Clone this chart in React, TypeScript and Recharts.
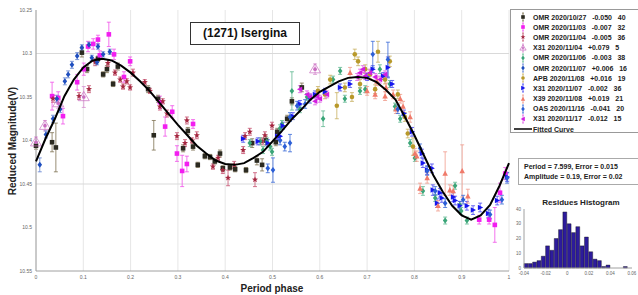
import React from 'react';
import {
  ScatterChart,
  Scatter,
  XAxis,
  YAxis,
  CartesianGrid,
  ReferenceLine,
  ErrorBar,
  BarChart,
  Bar,
} from 'recharts';

// phase, reduced magnitude, error
const omr1027 = [
  [0.0, 10.406, 0.004], [0.034, 10.402, 0.011], [0.042, 10.408, 0.028], [0.097, 10.299, 0.005],
  [0.108, 10.318, 0.004], [0.131, 10.306, 0.003], [0.142, 10.324, 0.003], [0.15, 10.318, 0.004],
  [0.163, 10.335, 0.003], [0.173, 10.315, 0.004], [0.237, 10.341, 0.004], [0.258, 10.352, 0.004],
  [0.249, 10.394, 0.017], [0.311, 10.409, 0.004], [0.321, 10.389, 0.004], [0.332, 10.407, 0.004],
  [0.342, 10.428, 0.003], [0.357, 10.418, 0.003], [0.368, 10.419, 0.003], [0.378, 10.424, 0.003],
  [0.389, 10.415, 0.004], [0.395, 10.432, 0.003], [0.41, 10.431, 0.003], [0.421, 10.433, 0.003],
  [0.444, 10.434, 0.003], [0.457, 10.403, 0.005], [0.467, 10.423, 0.005], [0.478, 10.428, 0.007],
  [0.486, 10.4, 0.005], [0.507, 10.402, 0.004], [0.51, 10.39, 0.004], [0.531, 10.375, 0.004],
  [0.541, 10.355, 0.004], [0.562, 10.339, 0.005],
];
const omr1103 = [
  [0.034, 10.349, 0.016], [0.047, 10.351, 0.007], [0.057, 10.372, 0.009], [0.087, 10.333, 0.009],
  [0.101, 10.318, 0.007], [0.11, 10.292, 0.006], [0.121, 10.289, 0.006], [0.154, 10.278, 0.014],
  [0.165, 10.301, 0.006], [0.186, 10.327, 0.006], [0.262, 10.356, 0.007], [0.273, 10.384, 0.011],
  [0.288, 10.367, 0.007], [0.298, 10.415, 0.009], [0.309, 10.435, 0.018], [0.319, 10.427, 0.009],
  [0.937, 10.491, 0.005], [0.958, 10.491, 0.005], [0.97, 10.497, 0.02], [0.981, 10.46, 0.011],
  [0.992, 10.438, 0.007], [0.131, 10.284, 0.005], [0.135, 10.302, 0.005], [0.199, 10.309, 0.005],
  [0.332, 10.381, 0.005],
];
const omr1104 = [
  [0.036, 10.352, 0.004], [0.091, 10.349, 0.004], [0.112, 10.341, 0.004], [0.125, 10.31, 0.004],
  [0.152, 10.311, 0.004], [0.167, 10.322, 0.003], [0.178, 10.33, 0.003], [0.184, 10.338, 0.003],
  [0.192, 10.332, 0.003], [0.199, 10.339, 0.003], [0.205, 10.322, 0.004], [0.23, 10.333, 0.003],
  [0.241, 10.343, 0.003], [0.262, 10.361, 0.004], [0.268, 10.355, 0.003], [0.277, 10.369, 0.004],
  [0.298, 10.395, 0.004], [0.319, 10.377, 0.004], [0.34, 10.394, 0.004], [0.315, 10.403, 0.004],
  [0.33, 10.4, 0.003], [0.374, 10.43, 0.003], [0.385, 10.42, 0.003], [0.395, 10.434, 0.004],
  [0.406, 10.443, 0.009], [0.419, 10.428, 0.004], [0.438, 10.411, 0.004], [0.442, 10.395, 0.004],
  [0.463, 10.445, 0.008], [0.478, 10.401, 0.004], [0.484, 10.394, 0.004], [0.452, 10.39, 0.004],
  [0.499, 10.383, 0.004],
];
const x31_1104 = [
  [0.0, 10.402, 0.006], [0.019, 10.383, 0.006], [0.101, 10.35, 0.012], [0.047, 10.357, 0.006],
  [0.59, 10.318, 0.006],
];
const omr1106 = [
  [0.452, 10.403, 0.004], [0.474, 10.401, 0.004], [0.48, 10.411, 0.004], [0.488, 10.401, 0.004],
  [0.495, 10.407, 0.004], [0.499, 10.413, 0.004], [0.541, 10.343, 0.022], [0.573, 10.35, 0.004],
  [0.607, 10.375, 0.009], [0.628, 10.33, 0.004], [0.685, 10.343, 0.004], [0.696, 10.341, 0.004],
  [0.727, 10.318, 0.005], [0.748, 10.335, 0.004], [0.643, 10.32, 0.004], [0.558, 10.364, 0.004],
  [0.52, 10.381, 0.004], [0.818, 10.458, 0.005], [0.865, 10.492, 0.004], [0.886, 10.452, 0.004],
  [0.896, 10.474, 0.004], [0.899, 10.481, 0.004], [0.911, 10.492, 0.004], [0.844, 10.466, 0.004],
  [0.801, 10.42, 0.004], [0.77, 10.375, 0.004], [0.759, 10.361, 0.004], [0.516, 10.386, 0.004],
  [0.653, 10.352, 0.004], [0.791, 10.403, 0.004],
];
const omr1107 = [
  [0.008, 10.428, 0.008], [0.021, 10.393, 0.004], [0.036, 10.375, 0.004], [0.051, 10.364, 0.004],
  [0.061, 10.332, 0.004], [0.076, 10.313, 0.004], [0.087, 10.303, 0.004], [0.112, 10.29, 0.003],
  [0.131, 10.292, 0.003], [0.142, 10.301, 0.003], [0.129, 10.31, 0.003], [0.068, 10.324, 0.004],
  [0.097, 10.293, 0.003], [0.156, 10.298, 0.003], [0.044, 10.352, 0.004], [0.118, 10.305, 0.003],
];
const apb1108 = [
  [0.723, 10.298, 0.012], [0.681, 10.309, 0.005], [0.636, 10.36, 0.015], [0.668, 10.35, 0.005],
  [0.797, 10.407, 0.01], [0.765, 10.347, 0.005], [0.738, 10.33, 0.005], [0.706, 10.324, 0.005],
  [0.696, 10.318, 0.005], [0.653, 10.339, 0.005], [0.78, 10.373, 0.005], [0.622, 10.33, 0.005],
  [0.748, 10.309, 0.006], [0.685, 10.335, 0.005], [0.596, 10.343, 0.005], [0.786, 10.392, 0.005],
  [0.717, 10.341, 0.005], [0.674, 10.301, 0.006], [0.611, 10.347, 0.005],
];
const x31_1107 = [
  [0.438, 10.398, 0.004], [0.469, 10.401, 0.004], [0.49, 10.403, 0.004], [0.51, 10.395, 0.004],
  [0.516, 10.395, 0.004], [0.522, 10.383, 0.004], [0.543, 10.372, 0.004], [0.558, 10.358, 0.004],
  [0.59, 10.347, 0.004], [0.611, 10.344, 0.004], [0.643, 10.339, 0.004], [0.664, 10.335, 0.004],
  [0.7, 10.327, 0.004], [0.712, 10.318, 0.004], [0.734, 10.326, 0.004], [0.744, 10.316, 0.012],
  [0.753, 10.335, 0.004], [0.795, 10.39, 0.005], [0.816, 10.415, 0.005], [0.818, 10.426, 0.005],
  [0.827, 10.434, 0.005], [0.837, 10.432, 0.005], [0.839, 10.457, 0.006], [0.848, 10.472, 0.005],
  [0.854, 10.46, 0.005], [0.858, 10.466, 0.005], [0.882, 10.465, 0.005], [0.886, 10.469, 0.005],
  [0.896, 10.475, 0.005], [0.911, 10.475, 0.005], [0.924, 10.48, 0.005], [0.939, 10.477, 0.005],
  [0.956, 10.484, 0.005], [0.975, 10.469, 0.005], [0.996, 10.442, 0.005], [0.778, 10.369, 0.004],
];
const x39_1108 = [
  [0.664, 10.322, 0.006], [0.7, 10.343, 0.005], [0.717, 10.347, 0.005], [0.738, 10.349, 0.005],
  [0.755, 10.347, 0.005], [0.77, 10.352, 0.005], [0.721, 10.332, 0.005], [0.801, 10.415, 0.006],
  [0.805, 10.418, 0.006], [0.865, 10.438, 0.025], [0.901, 10.435, 0.03], [0.875, 10.457, 0.006],
  [0.85, 10.475, 0.006], [0.913, 10.464, 0.008], [0.882, 10.458, 0.006], [0.827, 10.443, 0.006],
  [0.791, 10.373, 0.006], [0.776, 10.361, 0.006], [0.812, 10.455, 0.006], [0.74, 10.339, 0.005],
  [0.761, 10.364, 0.005],
];
const oas1116 = [
  [0.49, 10.432, 0.005], [0.501, 10.434, 0.014], [0.516, 10.4, 0.005], [0.526, 10.407, 0.005],
  [0.537, 10.403, 0.01], [0.537, 10.373, 0.005], [0.552, 10.36, 0.005], [0.569, 10.358, 0.005],
  [0.712, 10.301, 0.015], [0.744, 10.307, 0.02], [0.827, 10.435, 0.005], [0.844, 10.458, 0.005],
  [0.903, 10.468, 0.005], [0.96, 10.485, 0.005], [0.985, 10.468, 0.005], [0.996, 10.443, 0.006],
  [0.812, 10.409, 0.005], [0.765, 10.364, 0.005], [0.865, 10.472, 0.005], [0.579, 10.352, 0.005],
];
const x31_1117 = [
  [0.558, 10.341, 0.004], [0.573, 10.347, 0.004], [0.579, 10.35, 0.004], [0.59, 10.355, 0.004],
  [0.594, 10.349, 0.004], [0.6, 10.352, 0.004], [0.615, 10.347, 0.004], [0.679, 10.327, 0.004],
  [0.685, 10.322, 0.004], [0.691, 10.318, 0.004], [0.696, 10.326, 0.004], [0.706, 10.322, 0.004],
  [0.717, 10.327, 0.004], [0.727, 10.33, 0.004], [0.738, 10.324, 0.004],
];

const fitPhase = [
  0, 0.02, 0.04, 0.06, 0.08, 0.1, 0.12, 0.14, 0.16, 0.18, 0.2, 0.22, 0.24, 0.26, 0.28, 0.3, 0.32,
  0.34, 0.36, 0.38, 0.4, 0.42, 0.44, 0.46, 0.48, 0.5, 0.52, 0.54, 0.56, 0.58, 0.6, 0.62, 0.64, 0.66,
  0.68, 0.7, 0.72, 0.74, 0.76, 0.78, 0.8, 0.82, 0.84, 0.86, 0.88, 0.9, 0.92, 0.94, 0.96, 0.98, 1,
];
const fitMag = [
  10.424, 10.398, 10.375, 10.349, 10.33, 10.316, 10.308, 10.306, 10.308, 10.314, 10.322, 10.332,
  10.343, 10.356, 10.369, 10.382, 10.394, 10.406, 10.415, 10.423, 10.427, 10.428, 10.426, 10.42,
  10.413, 10.401, 10.389, 10.376, 10.365, 10.353, 10.344, 10.338, 10.332, 10.328, 10.327, 10.328,
  10.333, 10.342, 10.353, 10.373, 10.394, 10.417, 10.44, 10.459, 10.475, 10.486, 10.491, 10.486,
  10.474, 10.452, 10.426,
];

const phaseTicks = [0, 0.1, 0.2, 0.3, 0.4, 0.5, 0.6, 0.7, 0.8, 0.9, 1];
const magTicks = [10.25, 10.3, 10.35, 10.4, 10.45, 10.5, 10.55];

const histCenters = [
  -0.038, -0.034, -0.03, -0.026, -0.022, -0.018, -0.014, -0.01, -0.006, -0.002, 0.002, 0.006, 0.01,
  0.014, 0.018, 0.022, 0.026, 0.03, 0.034, 0.038, 0.042, 0.046, 0.05, 0.054,
];
const histCounts = [3, 3, 4, 5, 8, 15, 12, 20, 26, 38, 30, 24, 28, 15, 21, 11, 6, 5, 1, 2, 0, 0, 0, 1];
const histXTicks = [-0.04, -0.02, 0, 0.02, 0.04, 0.06];
const histYTicks = [0, 10, 20, 30, 40];

const series = [
  { name: 'OMR 2020/10/27', offset: '-0.050', n: '40', pts: omr1027, kind: 'square', color: '#2b2a20', err: '#7d7150' },
  { name: 'OMR 2020/11/03', offset: '-0.007', n: '32', pts: omr1103, kind: 'square', color: '#f21ef0', err: '#f050e8' },
  { name: 'OMR 2020/11/04', offset: '-0.005', n: '36', pts: omr1104, kind: 'star', color: '#a52740', err: '#c75070' },
  { name: 'X31 2020/11/04', offset: '+0.079', n: '5', pts: x31_1104, kind: 'triOpen', color: '#c86cc0', err: '#d890d0' },
  { name: 'OMR 2020/11/06', offset: '-0.003', n: '38', pts: omr1106, kind: 'diamond', color: '#3aa578', err: '#60b890' },
  { name: 'OMR 2020/11/07', offset: '+0.006', n: '16', pts: omr1107, kind: 'diamond', color: '#1f4fbf', err: '#6080d0' },
  { name: 'APB 2020/11/08', offset: '+0.016', n: '19', pts: apb1108, kind: 'circle', color: '#b8992a', err: '#c8b060' },
  { name: 'X31 2020/11/07', offset: '-0.002', n: '36', pts: x31_1107, kind: 'triR', color: '#1616ee', err: '#4848f0' },
  { name: 'X39 2020/11/08', offset: '+0.019', n: '21', pts: x39_1108, kind: 'tri', color: '#f07a6a', err: '#f09a8c' },
  { name: 'OAS 2020/11/16', offset: '-0.041', n: '20', pts: oas1116, kind: 'diamond', color: '#2c5fd6', err: '#3a6ad8' },
  { name: 'X31 2020/11/17', offset: '-0.012', n: '15', pts: x31_1117, kind: 'triL', color: '#d21ee0', err: '#e060e8' },
];

const Marker = ({ cx, cy, kind, color, s = 2.3 }: any) => {
  if (cx == null || cy == null) return <g />;
  switch (kind) {
    case 'square':
      return <rect x={cx - s} y={cy - s} width={2 * s} height={2 * s} fill={color} />;
    case 'diamond':
      return <polygon points={`${cx},${cy - s * 1.3} ${cx + s},${cy} ${cx},${cy + s * 1.3} ${cx - s},${cy}`} fill={color} />;
    case 'circle':
      return <circle cx={cx} cy={cy} r={s} fill={color} />;
    case 'tri':
      return <polygon points={`${cx},${cy - s * 1.3} ${cx + s * 1.2},${cy + s} ${cx - s * 1.2},${cy + s}`} fill={color} />;
    case 'triR':
      return <polygon points={`${cx + s * 1.3},${cy} ${cx - s},${cy - s * 1.2} ${cx - s},${cy + s * 1.2}`} fill={color} />;
    case 'triL':
      return <polygon points={`${cx - s * 1.3},${cy} ${cx + s},${cy - s * 1.2} ${cx + s},${cy + s * 1.2}`} fill={color} />;
    case 'triOpen':
      return (
        <g>
          <polygon points={`${cx},${cy - s * 2.4} ${cx + s * 2.4},${cy + s * 1.6} ${cx - s * 2.4},${cy + s * 1.6}`} fill="none" stroke={color} strokeWidth={0.7} />
          <circle cx={cx} cy={cy} r={s * 0.8} fill={color} />
        </g>
      );
    case 'star': {
      const pts = [];
      for (let i = 0; i < 10; i++) {
        const r = i % 2 === 0 ? s * 1.4 : s * 0.6;
        const a = -Math.PI / 2 + (i * Math.PI) / 5;
        pts.push(`${cx + r * Math.cos(a)},${cy + r * Math.sin(a)}`);
      }
      return <polygon points={pts.join(' ')} fill={color} />;
    }
    default:
      return <g />;
  }
};

const toRows = (pts: number[][]) => pts.map(([x, y, err]) => ({ x, y, err }));
const fitData = fitPhase.map((x, i) => ({ x, y: fitMag[i] }));
const histData = histCenters.map((c, i) => ({ c, n: histCounts[i] }));

const fmtMag = (v: number) => String(parseFloat(v.toFixed(2)));

export default function App() {
  return (
    <div
      style={{
        position: 'fixed',
        left: 0,
        top: 0,
        width: 638,
        height: 295,
        overflow: 'hidden',
        background: '#fff',
        fontFamily: '"Liberation Sans", Arial, sans-serif',
      }}
    >
      <ScatterChart width={638} height={295} margin={{ top: 10, right: 129, bottom: 14, left: 0 }}>
        <CartesianGrid horizontal={false} stroke="#e6e6e6" />
        <XAxis
          type="number"
          dataKey="x"
          domain={[0, 1]}
          ticks={phaseTicks}
          height={10}
          tickLine={false}
          tickSize={2}
          tick={{ fontSize: 5, fill: '#666' }}
          stroke="#a0a0a0"
        />
        <YAxis
          type="number"
          dataKey="y"
          reversed
          domain={[10.25, 10.55]}
          allowDataOverflow
          ticks={magTicks}
          tickFormatter={fmtMag}
          width={36}
          tickLine={false}
          tickSize={3}
          tickMargin={1}
          tick={{ fontSize: 5, fill: '#666' }}
          stroke="#a0a0a0"
        />
        <ReferenceLine y={10.3} stroke="#d9d9d9" />
        <ReferenceLine y={10.45} stroke="#d9d9d9" />
        {series.map((s) => (
          <Scatter
            key={s.name}
            name={s.name}
            data={toRows(s.pts)}
            isAnimationActive={false}
            shape={(p: any) => <Marker cx={p.cx} cy={p.cy} kind={s.kind} color={s.color} />}
          >
            <ErrorBar dataKey="err" direction="y" width={2} stroke={s.err} strokeWidth={0.8} />
          </Scatter>
        ))}
        <Scatter
          name="Fitted Curve"
          data={fitData}
          isAnimationActive={false}
          line={{ stroke: '#000', strokeWidth: 2 }}
          lineType="joint"
          shape={() => <g />}
        />
      </ScatterChart>

      {/* axis titles */}
      <div
        style={{
          position: 'absolute',
          left: 12,
          top: 141,
          transform: 'translate(-50%, -50%) rotate(-90deg)',
          fontSize: 10,
          fontWeight: 'bold',
          whiteSpace: 'nowrap',
          color: '#222',
        }}
      >
        Reduced Magnitude(V)
      </div>
      <div
        style={{
          position: 'absolute',
          left: 272,
          top: 288,
          transform: 'translate(-50%, -50%)',
          fontSize: 10,
          fontWeight: 'bold',
          whiteSpace: 'nowrap',
          color: '#222',
        }}
      >
        Period phase
      </div>

      {/* title box */}
      <div
        style={{
          position: 'absolute',
          left: 190,
          top: 22,
          width: 108,
          height: 21,
          border: '1.5px solid #333',
          background: '#fff',
          fontSize: 12,
          fontWeight: 'bold',
          lineHeight: '21px',
          textAlign: 'center',
          color: '#111',
        }}
      >
        (1271) Isergina
      </div>

      {/* legend */}
      <div
        style={{
          position: 'absolute',
          left: 510,
          top: 9,
          width: 140,
          height: 124,
          border: '1px solid #999',
          background: '#fff',
          boxSizing: 'border-box',
          paddingTop: 2,
        }}
      >
        {series.map((s) => (
          <div key={s.name} style={{ height: 10.2, display: 'flex', alignItems: 'center' }}>
            <svg width={22} height={10} style={{ flex: 'none' }}>
              <line x1={12} x2={12} y1={1} y2={9} stroke={s.err} strokeWidth={0.8} />
              <line x1={11} x2={13} y1={1} y2={1} stroke={s.err} strokeWidth={0.8} />
              <line x1={11} x2={13} y1={9} y2={9} stroke={s.err} strokeWidth={0.8} />
              <Marker cx={12} cy={5} kind={s.kind} color={s.color} s={s.kind === 'triOpen' ? 1.3 : 1.8} />
            </svg>
            <span style={{ fontSize: 7, fontWeight: 'bold', whiteSpace: 'pre', color: '#222' }}>
              {`${s.name}   ${s.offset}   ${s.n}`}
            </span>
          </div>
        ))}
        <div style={{ height: 10.2, display: 'flex', alignItems: 'center' }}>
          <svg width={22} height={10} style={{ flex: 'none' }}>
            <line x1={3} x2={21} y1={5} y2={5} stroke="#000" strokeWidth={1.5} />
          </svg>
          <span style={{ fontSize: 7, fontWeight: 'bold', color: '#222' }}>Fitted Curve</span>
        </div>
      </div>

      {/* period box */}
      <div
        style={{
          position: 'absolute',
          left: 518,
          top: 158,
          width: 130,
          height: 27,
          border: '1px solid #aaa',
          background: '#fff',
          boxSizing: 'border-box',
          padding: '3px 0 0 5px',
          fontSize: 7,
          fontWeight: 'bold',
          lineHeight: '10px',
          color: '#222',
          whiteSpace: 'nowrap',
        }}
      >
        <div>Period =  7.599, Error = 0.015</div>
        <div>Amplitude = 0.19, Error = 0.02</div>
      </div>

      {/* residues histogram */}
      <div
        style={{
          position: 'absolute',
          left: 523,
          top: 198,
          width: 116,
          textAlign: 'center',
          fontSize: 8,
          fontWeight: 'bold',
          color: '#222',
        }}
      >
        Residues Histogram
      </div>
      <div style={{ position: 'absolute', left: 500, top: 200 }}>
        <BarChart width={150} height={90} data={histData} margin={{ top: 9, right: 18, bottom: 12, left: 0 }}>
          <XAxis
            type="number"
            dataKey="c"
            domain={[-0.04, 0.06]}
            ticks={histXTicks}
            tickFormatter={(v: number) => String(parseFloat(v.toFixed(2)))}
            height={10}
            tickLine={false}
            tickSize={2}
            tick={{ fontSize: 4.5, fill: '#666' }}
            stroke="#a0a0a0"
          />
          <YAxis
            type="number"
            domain={[0, 40]}
            ticks={histYTicks}
            width={24}
            tickLine={false}
            tickSize={2}
            tickMargin={1}
            tick={{ fontSize: 4.5, fill: '#666' }}
            stroke="#a0a0a0"
          />
          <Bar dataKey="n" fill="#2d1b9c" stroke="#111" strokeWidth={0.4} barSize={5} isAnimationActive={false} />
        </BarChart>
      </div>
    </div>
  );
}
